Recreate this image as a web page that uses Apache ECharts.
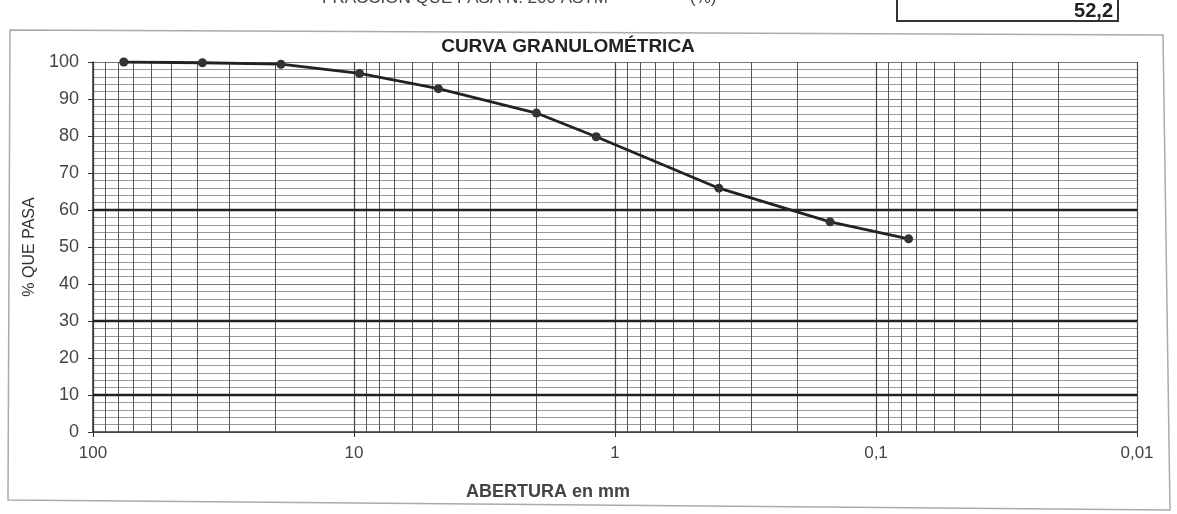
<!DOCTYPE html>
<html><head><meta charset="utf-8">
<script src="https://cdn.jsdelivr.net/npm/echarts@6/dist/echarts.min.js"></script>
<style>html,body{margin:0;padding:0;background:#fff}#c{width:1177px;height:514px}</style>
</head><body><div id="c"></div>
<script>
// ---- data ----
const sieveSizes = [76.2, 38.1, 19.05, 9.525, 4.75, 2.0, 1.18, 0.40, 0.15, 0.075];
const percentPassing = [100, 99.8, 99.4, 96.9, 92.8, 86.2, 79.8, 65.9, 56.8, 52.2];
const yTicks = [0, 10, 20, 30, 40, 50, 60, 70, 80, 90, 100];
const xTickLabels = ['100', '10', '1', '0,1', '0,01'];
const decades = [10, 1, 0.1, 0.01];
const minorMultipliers = [2, 3, 4, 5, 6, 7, 8, 9];
const boldYLines = [10, 30, 60];
const passing200Label = 'FRACCIÓN QUE PASA N. 200 ASTM';
const passing200Value = '52,2';

const minorX = [];
decades.forEach(d => minorMultipliers.forEach(m => minorX.push(+(d * m).toPrecision(3))));

const chart = echarts.init(document.getElementById('c'));
const FONT = '"Liberation Sans", Arial, sans-serif';

chart.setOption({
  animation: false,
  backgroundColor: '#fff',
  grid: { left: 93, right: 40, top: 62, bottom: 82 },
  xAxis: {
    type: 'log', logBase: 10, min: 0.01, max: 100, inverse: true,
    axisLine: { show: true, lineStyle: { color: '#333', width: 1.5 } },
    axisTick: { show: true, length: 5, lineStyle: { color: '#333' } },
    axisLabel: {
      color: '#444', fontSize: 17, fontFamily: FONT, margin: 13,
      formatter: v => { const s = String(v).replace('.', ','); return xTickLabels.indexOf(s) >= 0 ? s : ''; }
    },
    splitLine: { show: true, lineStyle: { color: '#444', width: 1.2 } },
    minorTick: { show: false }, minorSplitLine: { show: false }
  },
  yAxis: {
    type: 'value', min: 0, max: 100, interval: 10,
    name: '% QUE PASA', nameLocation: 'middle', nameGap: 52, nameRotate: 90,
    nameTextStyle: { color: '#333', fontSize: 16, fontFamily: FONT },
    axisLine: { show: true, lineStyle: { color: '#333', width: 1.5 } },
    axisTick: { show: true, length: 5, lineStyle: { color: '#333' } },
    axisLabel: { color: '#444', fontSize: 18, fontFamily: FONT, margin: 14,
      formatter: v => yTicks.indexOf(v) >= 0 ? String(v) : '' },
    splitLine: { show: true, lineStyle: { color: '#777', width: 1 } },
    minorTick: { show: false, splitNumber: 5 },
    minorSplitLine: { show: true, lineStyle: { color: '#999', width: 1 } }
  },
  series: [
    {
      type: 'line', data: [], z: 1, silent: true,
      markLine: {
        silent: true, symbol: 'none', label: { show: false }, animation: false,
        lineStyle: { color: '#555', width: 1, type: 'solid' },
        data: minorX.map(v => ({ xAxis: v }))
      }
    },
    {
      type: 'line', data: [], z: 2, silent: true,
      markLine: {
        silent: true, symbol: 'none', label: { show: false }, animation: false,
        lineStyle: { color: '#222', width: 2.4, type: 'solid' },
        data: boldYLines.map(v => ({ yAxis: v }))
      }
    },
    {
      type: 'line', z: 5,
      data: sieveSizes.map((s, i) => [s, percentPassing[i]]),
      symbol: 'circle', symbolSize: 9,
      itemStyle: { color: '#333' },
      lineStyle: { color: '#222', width: 2.8 }
    }
  ],
  graphic: [
    { type: 'polygon', z: 0, shape: { points: [[10, 30], [1163, 35], [1170, 510], [8, 500]] },
      style: { fill: 'none', stroke: '#aaa', lineWidth: 1.5 } },
    { type: 'text', x: 322, y: -10, style: { text: passing200Label, font: '17px ' + FONT, fill: '#444' } },
    { type: 'text', x: 690, y: -10, style: { text: '(%)', font: '17px ' + FONT, fill: '#444' } },
    { type: 'rect', shape: { x: 897, y: -6, width: 221, height: 27 },
      style: { fill: '#fff', stroke: '#333', lineWidth: 2 } },
    { type: 'text', x: 1113, y: 1, style: { text: passing200Value, font: 'bold 20px ' + FONT, fill: '#222', align: 'right' } },
    { type: 'text', x: 568, y: 37, style: { text: 'CURVA GRANULOMÉTRICA', font: 'bold 19px ' + FONT, fill: '#222', align: 'center' } },
    { type: 'text', x: 466, y: 483, style: { text: 'ABERTURA en mm', font: 'bold 18px ' + FONT, fill: '#444' } }
  ]
});
</script></body></html>
